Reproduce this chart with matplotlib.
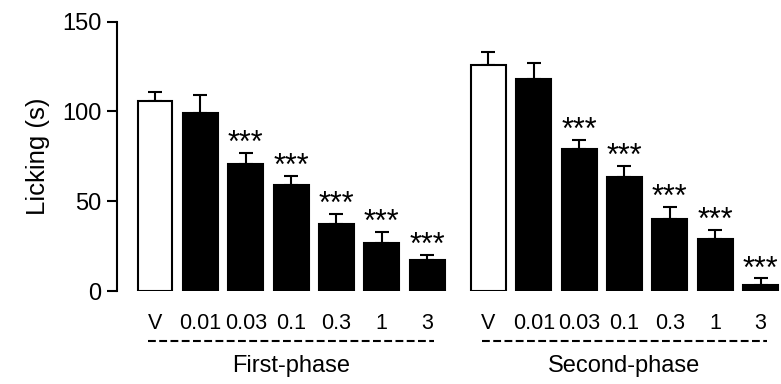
import matplotlib
matplotlib.use("Agg")
import matplotlib.pyplot as plt
import numpy as np
from matplotlib.transforms import blended_transform_factory

plt.rcParams['font.family'] = ['Liberation Sans', 'DejaVu Sans']

# ---- data ----
doses = ["V", "0.01", "0.03", "0.1", "0.3", "1", "3"]
phases = ["First-phase", "Second-phase"]
first_mean = [106, 99, 71, 59, 37.5, 27, 17]
first_sem = [5, 10, 6, 5, 5.5, 6, 3]
second_mean = [126, 118, 79, 63.5, 40, 29, 3.5]
second_sem = [7, 9, 5, 6, 7, 5, 3.5]
first_sig = ["", "", "***", "***", "***", "***", "***"]
second_sig = ["", "", "***", "***", "***", "***", "***"]

W, H = 781, 384
fig = plt.figure(figsize=(W / 100, H / 100), dpi=100)
ax_left, ax_right = 117 / W, 1.0
ax_bot, ax_top = (H - 291) / H, (H - 21.7) / H
ax = fig.add_axes([ax_left, ax_bot, ax_right - ax_left, ax_top - ax_bot])

group_offset = 7.35
bar_w = 0.77
lw = 1.5

all_pos, all_labels = [], []
for g, (means, sems, sig) in enumerate([(first_mean, first_sem, first_sig),
                                         (second_mean, second_sem, second_sig)]):
    x = np.arange(len(doses)) + g * group_offset
    colors = ['white'] + ['black'] * (len(doses) - 1)
    ax.errorbar(x, means, yerr=[np.zeros(len(sems)), sems], fmt='none',
                ecolor='black', elinewidth=lw, capsize=5, capthick=lw, zorder=1)
    ax.bar(x, means, width=bar_w, color=colors, edgecolor='black',
           linewidth=lw, zorder=2)
    for xi, m, s, t in zip(x, means, sems, sig):
        if t:
            ax.text(xi, m + s + 0.5, t, ha='center', va='baseline', fontsize=22)
    all_pos.extend(x)
    all_labels.extend(doses)
    trans = blended_transform_factory(ax.transData, ax.transAxes)
    ax.plot([x[0] - 0.15, x[-1] + 0.15], [-0.1846, -0.1846], transform=trans,
            color='black', lw=lw, linestyle=(0, (3.75, 1.65)), clip_on=False)
    ax.text((x[0] + x[-1]) / 2, -0.3007, phases[g], transform=trans,
            ha='center', va='baseline', fontsize=17)

ax.set_xticks(all_pos)
ax.set_xticklabels(all_labels, fontsize=15.5)
ax.tick_params(axis='x', length=0, pad=15.5)

ax.set_ylim(0, 150)
ax.set_xlim((117 - 155) / 45.36, (781 - 155) / 45.36)
ax.set_yticks([0, 50, 100, 150])
ax.tick_params(axis='y', length=7.2, width=lw, labelsize=17, pad=4)
ax.set_ylabel("Licking (s)", fontsize=18.5, labelpad=9)

for sp in ['top', 'right', 'bottom']:
    ax.spines[sp].set_visible(False)
ax.spines['left'].set_linewidth(lw)
ax.spines['left'].set_bounds(0, 150)

fig.savefig("out.png", dpi=100)
